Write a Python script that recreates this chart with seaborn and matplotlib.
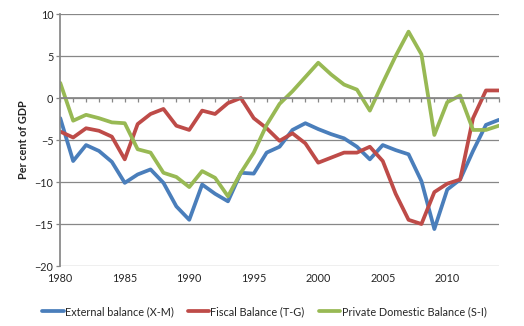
import numpy as np
import pandas as pd
import matplotlib
matplotlib.use("Agg")
import matplotlib.pyplot as plt
from matplotlib.ticker import MultipleLocator
import seaborn as sns

# ── Data ─────────────────────────────────────────────────────────────────────
years = list(range(1980, 2015))
label_years = [1980, 1985, 1990, 1995, 2000, 2005, 2010]

external = [-2.4, -7.5, -5.6, -6.3, -7.6, -10.1, -9.1, -8.5, -10.1, -12.9,
            -14.5, -10.3, -11.4, -12.3, -8.9, -9.0, -6.5, -5.8, -3.8, -3.0,
            -3.7, -4.3, -4.8, -5.8, -7.3, -5.6, -6.2, -6.7, -9.9, -15.6,
            -10.9, -9.7, -6.3, -3.2, -2.6]

fiscal = [-4.0, -4.7, -3.6, -3.9, -4.6, -7.3, -3.1, -1.9, -1.3, -3.3,
          -3.8, -1.5, -1.9, -0.6, 0.0, -2.4, -3.6, -5.1, -4.2, -5.4,
          -7.7, -7.1, -6.5, -6.5, -5.8, -7.5, -11.4, -14.5, -15.0, -11.2,
          -10.2, -9.7, -2.4, 0.9, 0.9]

private = [1.8, -2.7, -2.0, -2.4, -2.9, -3.0, -6.1, -6.5, -8.9, -9.4,
           -10.6, -8.7, -9.5, -11.7, -8.9, -6.5, -3.2, -0.7, 0.8, 2.5,
           4.2, 2.8, 1.6, 1.0, -1.5, 1.8, 5.0, 7.9, 5.2, -4.4,
           -0.5, 0.3, -3.8, -3.8, -3.3]

series_names = ["External balance (X-M)", "Fiscal Balance (T-G)",
                "Private Domestic Balance (S-I)"]
colors = ["#4A7EBB", "#BE4B48", "#98B954"]

df = pd.DataFrame({
    "Year": years * 3,
    "Value": external + fiscal + private,
    "Series": np.repeat(series_names, len(years)),
})

# ── Plot ─────────────────────────────────────────────────────────────────────
sns.set_theme(style="white")
plt.rcParams["font.family"] = ["Lato", "DejaVu Sans"]

fig, ax = plt.subplots(figsize=(5.24, 3.26), dpi=100)
fig.subplots_adjust(left=0.115, right=0.952, top=0.957, bottom=0.184)

sns.lineplot(data=df, x="Year", y="Value", hue="Series", palette=colors,
             linewidth=2.7, ax=ax, legend=True)

ax.set_xlim(1980, 2014)
ax.set_ylim(-20, 10)
ax.yaxis.set_major_locator(MultipleLocator(5))
ax.grid(axis="y", color="#878787", linewidth=0.9)
ax.set_axisbelow(True)

for side in ["top", "right"]:
    ax.spines[side].set_visible(False)
ax.spines["left"].set_color("#878787")
ax.spines["bottom"].set_color("#878787")
ax.spines["bottom"].set_position(("data", 0))

# year tick marks along the zero line, no labels there
ax.set_xticks(years)
ax.tick_params(axis="x", which="major", length=3, width=0.9, color="#878787",
               direction="out", labelbottom=False, bottom=True)
ax.tick_params(axis="y", length=3, width=0.9, color="#878787", left=True,
               labelsize=7.8, pad=2)

# year labels at the bottom of the plot
sec = ax.secondary_xaxis(0.0)
sec.set_xticks(label_years)
sec.tick_params(length=0, labelsize=7.8, pad=5)
sec.spines["bottom"].set_visible(False)

ax.set_xlabel("")
ax.set_ylabel("Per cent of GDP", fontsize=7.8, fontweight="bold", labelpad=4)

ax.legend(loc="upper center", bbox_to_anchor=(0.465, -0.12), ncol=3,
          frameon=False, fontsize=7.8, handlelength=2.0, handletextpad=0.1,
          columnspacing=1.3)
for line in ax.get_legend().get_lines():
    line.set_linewidth(2.7)

plt.savefig("out.png", dpi=100)
plt.close()
